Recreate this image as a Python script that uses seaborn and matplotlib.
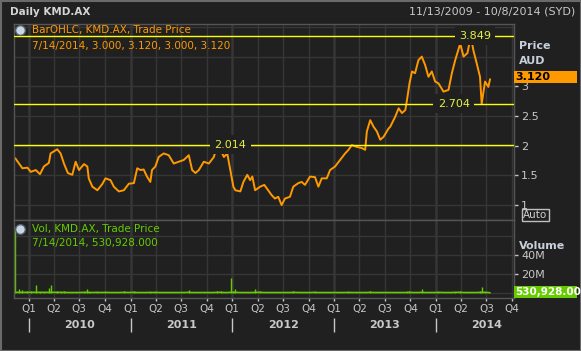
import numpy as np
import pandas as pd
import matplotlib
matplotlib.use("Agg")
import matplotlib.pyplot as plt
import matplotlib.ticker as mticker
from matplotlib.patches import Rectangle
import seaborn as sns

# daily KMD.AX (close, AUD)
price_dates = [
    "2009-11-13", "2009-11-27", "2009-12-09", "2009-12-27", "2010-01-08", "2010-01-26", "2010-02-10", "2010-02-24", "2010-03-14", "2010-03-20",
    "2010-04-13", "2010-04-25", "2010-05-07", "2010-05-21", "2010-06-06", "2010-06-18", "2010-06-30", "2010-07-18", "2010-07-30", "2010-08-04",
    "2010-08-17", "2010-09-04", "2010-09-21", "2010-10-03", "2010-10-21", "2010-11-02", "2010-11-20", "2010-12-08", "2010-12-26", "2011-01-13",
    "2011-01-25", "2011-02-06", "2011-02-17", "2011-03-01", "2011-03-13", "2011-03-19", "2011-03-31", "2011-04-12", "2011-04-30", "2011-05-18",
    "2011-06-05", "2011-06-23", "2011-07-11", "2011-07-29", "2011-08-10", "2011-08-22", "2011-09-03", "2011-09-21", "2011-10-09", "2011-10-27",
    "2011-11-08", "2011-11-20", "2011-12-02", "2011-12-14", "2011-12-26", "2012-01-05", "2012-01-12", "2012-01-30", "2012-02-10", "2012-02-24",
    "2012-03-05", "2012-03-13", "2012-03-23", "2012-04-10", "2012-04-25", "2012-05-09", "2012-05-21", "2012-06-02", "2012-06-14", "2012-06-26",
    "2012-07-08", "2012-07-26", "2012-08-07", "2012-08-25", "2012-09-06", "2012-09-18", "2012-10-06", "2012-10-24", "2012-11-05", "2012-11-17",
    "2012-12-05", "2012-12-17", "2013-01-04", "2013-01-22", "2013-02-09", "2013-02-21", "2013-03-05", "2013-03-23", "2013-04-10", "2013-04-22",
    "2013-04-28", "2013-05-10", "2013-05-22", "2013-06-03", "2013-06-15", "2013-06-27", "2013-07-15", "2013-07-21", "2013-08-08", "2013-08-20",
    "2013-09-01", "2013-09-13", "2013-09-19", "2013-09-28", "2013-10-07", "2013-10-18", "2013-10-30", "2013-11-11", "2013-11-23", "2013-12-05",
    "2013-12-17", "2013-12-29", "2014-01-10", "2014-01-28", "2014-02-15", "2014-02-27", "2014-03-11", "2014-03-29", "2014-04-10", "2014-04-24",
    "2014-05-06", "2014-05-15", "2014-05-27", "2014-06-08", "2014-06-14", "2014-06-26", "2014-07-08", "2014-07-14",
]
price_close = [
    1.79, 1.70, 1.62, 1.63, 1.56, 1.59, 1.52, 1.65, 1.71, 1.87,
    1.94, 1.87, 1.70, 1.54, 1.51, 1.73, 1.59, 1.69, 1.65, 1.45,
    1.31, 1.25, 1.35, 1.45, 1.42, 1.31, 1.23, 1.25, 1.36, 1.37,
    1.62, 1.59, 1.60, 1.48, 1.39, 1.59, 1.65, 1.81, 1.87, 1.84,
    1.70, 1.73, 1.76, 1.84, 1.59, 1.54, 1.59, 1.73, 1.70, 1.81,
    2.014, 1.93, 1.81, 1.87, 1.56, 1.31, 1.25, 1.23, 1.39, 1.51,
    1.42, 1.48, 1.25, 1.31, 1.34, 1.25, 1.17, 1.11, 1.14, 1.00,
    1.11, 1.14, 1.31, 1.37, 1.39, 1.34, 1.48, 1.47, 1.31, 1.45,
    1.45, 1.59, 1.65, 1.76, 1.87, 1.93, 2.01, 1.98, 1.96, 1.93,
    2.24, 2.43, 2.32, 2.24, 2.10, 2.15, 2.29, 2.32, 2.49, 2.63,
    2.55, 2.60, 2.77, 3.05, 3.25, 3.22, 3.44, 3.50, 3.36, 3.16,
    3.25, 3.08, 3.05, 2.91, 2.94, 3.22, 3.44, 3.72, 3.50, 3.56,
    3.849, 3.61, 3.39, 3.16, 2.704, 3.08, 2.99, 3.12,
]
# volume in millions of shares, same dates
volume_m = [
    68, 4.5, 3.0, 2.5, 2.4, 8.8, 1.0, 1.5, 6.0, 8.8,
    2.0, 1.5, 2.0, 0.8, 0.8, 0.8, 0.8, 1.0, 4.5, 1.0,
    0.8, 1.5, 0.8, 1.5, 0.8, 0.8, 0.8, 2.5, 0.8, 2.5,
    0.8, 0.8, 0.8, 0.8, 1.5, 0.8, 1.5, 0.8, 0.8, 0.8,
    0.8, 0.8, 0.8, 3.5, 0.8, 0.8, 0.8, 0.8, 0.8, 0.8,
    2.5, 2.0, 0.8, 0.8, 16.5, 2.5, 4.5, 0.8, 0.8, 0.8,
    0.8, 0.8, 4.5, 2.5, 0.8, 0.8, 0.8, 0.8, 0.8, 0.8,
    0.8, 0.8, 2.0, 0.8, 0.8, 0.8, 0.8, 1.5, 0.8, 0.8,
    0.8, 0.8, 0.8, 0.8, 0.8, 1.5, 0.8, 0.8, 0.8, 0.8,
    0.8, 2.5, 0.8, 0.8, 0.8, 0.8, 0.8, 0.8, 0.8, 0.8,
    0.8, 0.8, 1.5, 2.0, 0.8, 0.8, 0.8, 4.6, 0.8, 0.8,
    0.8, 0.8, 1.5, 0.8, 0.8, 0.8, 1.5, 2.0, 0.8, 0.8,
    0.8, 0.8, 0.8, 2.0, 7.0, 1.5, 0.8, 0.53,
]

# reference lines (level, where the label sits)
ref_levels = [3.849, 2.704, 2.014]
ref_label_dates = ["2014-05-21", "2014-03-06", "2011-12-25"]

price_ticks = [1, 1.5, 2, 2.5, 3]
vol_ticks = [20, 40]
vol_tick_labels = ["20M", "40M"]
quarter_labels = ["Q1", "Q2", "Q3", "Q4"]
years = [2010, 2011, 2012, 2013, 2014]

BG = "#202020"
GRID = "#363636"
EDGE = "#555555"
TXT = "#c8c8c8"
ORANGE = "#ff9900"
GREEN = "#66cc00"
YELLOW = "#ffff00"

sns.set_theme(style="dark")
plt.rcParams["font.family"] = ["DejaVu Sans"]

df = pd.DataFrame({"date": pd.to_datetime(price_dates), "close": price_close, "vol": volume_m})

W, H = 581, 351
fig = plt.figure(figsize=(W / 100, H / 100), dpi=100, facecolor=BG)
ax = fig.add_axes([13.5 / W, 1 - 220 / H, 500.5 / W, 196 / H])
axv = fig.add_axes([13.5 / W, 1 - 298 / H, 500.5 / W, 78 / H], sharex=ax)

for a in (ax, axv):
    a.set_facecolor(BG)
    for s in a.spines.values():
        s.set_color(EDGE)
        s.set_linewidth(1)

# price
sns.lineplot(data=df, x="date", y="close", ax=ax, color=ORANGE, lw=1.4)
ax.set_xlim(pd.Timestamp("2009-11-07"), pd.Timestamp("2014-10-08"))
ax.set_ylim(0.749, 4.049)

# volume
axv.vlines(df["date"], 0, df["vol"], color=GREEN, lw=1)
sns.lineplot(x=df["date"], y=np.minimum(df["vol"], 1.0), ax=axv, color=GREEN, lw=1.2)
axv.set_ylim(-4.95, 77.2)

# grids: quarters, with heavier years
quarters = pd.date_range("2010-01-01", "2014-10-01", freq="QS")
for a in (ax, axv):
    for q in quarters:
        a.axvline(q, color=GRID, lw=1.8 if q.month == 1 else 1, zorder=0)
for lv in np.arange(1, 4.01, 0.5):
    ax.axhline(lv, color=GRID, lw=1, zorder=0)
for lv in [0, 20, 40, 60]:
    axv.axhline(lv, color=GRID, lw=1, zorder=0)

for lv, d in zip(ref_levels, ref_label_dates):
    ax.axhline(lv, color=YELLOW, lw=1, zorder=3)
    ax.text(pd.Timestamp(d), lv, f"{lv:.3f}", color="#e4f040", fontsize=8,
            ha="center", va="center", zorder=4,
            bbox=dict(boxstyle="square,pad=0.4", fc=BG, ec="none"))

# axes ticks
ax.yaxis.tick_right()
ax.set_yticks(price_ticks)
ax.yaxis.set_major_formatter(mticker.FormatStrFormatter("%g"))
ax.tick_params(axis="y", colors=TXT, labelcolor=TXT, labelsize=8, length=3, width=1, pad=2, direction="out")
ax.tick_params(axis="x", bottom=False, labelbottom=False)
ax.set_xlabel("")
ax.set_ylabel("")

axv.yaxis.tick_right()
axv.set_yticks(vol_ticks)
axv.set_yticklabels(vol_tick_labels)
axv.tick_params(axis="y", colors=TXT, labelcolor=TXT, labelsize=8, length=3, width=1, pad=2, direction="out")
axv.set_xticks(quarters)
axv.set_xticklabels([quarter_labels[(q.month - 1) // 3] for q in quarters])
axv.tick_params(axis="x", colors=TXT, labelcolor=TXT, labelsize=7.5, length=2.5, width=1, pad=1.5,
                direction="out", bottom=True)
axv.set_xlabel("")
axv.set_ylabel("")

xt = axv.get_xaxis_transform()
for y in years:
    axv.vlines(pd.Timestamp(f"{y}-01-01"), -0.26, -0.44, transform=xt, clip_on=False, color=TXT, lw=1)
    axv.text(pd.Timestamp(f"{y}-07-02"), -0.35, str(y), transform=xt, ha="center", va="center",
             color=TXT, fontsize=8, fontweight="bold")

# legends in panels
for a, yi, col, lines in [
    (ax, 0.969, ORANGE, ["BarOHLC, KMD.AX, Trade Price", "7/14/2014, 3.000, 3.120, 3.000, 3.120"]),
    (axv, 0.885, GREEN, ["Vol, KMD.AX, Trade Price", "7/14/2014, 530,928.000"]),
]:
    a.plot([0.013], [yi], marker="o", ms=7, mfc="#c9d6e6", mec="#56606c", mew=1,
           transform=a.transAxes, clip_on=False, zorder=6)
    a.text(0.037, yi, lines[0], color=col, fontsize=7.5, va="center", transform=a.transAxes, zorder=6)
    a.text(0.037, yi - (0.08 if a is ax else 0.18), lines[1], color=col, fontsize=7.5, va="center",
           transform=a.transAxes, zorder=6)

# header
fig.text(10 / W, 1 - 12 / H, "Daily KMD.AX", color="#d4d4d4", fontsize=7.5, fontweight="bold", va="center")
fig.text(575 / W, 1 - 12 / H, "11/13/2009 - 10/8/2014 (SYD)", color=TXT, fontsize=8, ha="right", va="center")

# right side labels
fig.text(519 / W, 1 - 46 / H, "Price", color="#c8d0dc", fontsize=8, fontweight="bold", va="center")
fig.text(519 / W, 1 - 61 / H, "AUD", color="#c8d0dc", fontsize=8, fontweight="bold", va="center")
fig.text(519 / W, 1 - 246 / H, "Volume", color="#c8d0dc", fontsize=8, fontweight="bold", va="center")
fig.text(523 / W, 1 - 215 / H, "Auto", color="#d0d0d0", fontsize=7.5, va="center",
         bbox=dict(boxstyle="square,pad=0.12", fc="none", ec="#c0c0c0", lw=1))

fig.patches.append(Rectangle((514 / W, 1 - 83 / H), 63 / W, 12 / H, transform=fig.transFigure,
                             fc=ORANGE, ec="none", zorder=5))
fig.text(515 / W, 1 - 77 / H, "3.120", color="black", fontsize=8, fontweight="bold", va="center", zorder=6)
fig.patches.append(Rectangle((514 / W, 1 - 298 / H), 63 / W, 12 / H, transform=fig.transFigure,
                             fc=GREEN, ec="none", zorder=5))
fig.text(515 / W, 1 - 292 / H, "530,928.00", color="white", fontsize=7.5, fontweight="bold", va="center", zorder=6)

fig.patches.append(Rectangle((0.5 / W, 0.5 / H), 1 - 1 / W, 1 - 1 / H, transform=fig.transFigure,
                             fill=False, ec="#6a6a6a", lw=1.5))

fig.savefig("out.png", dpi=100, facecolor=BG)
